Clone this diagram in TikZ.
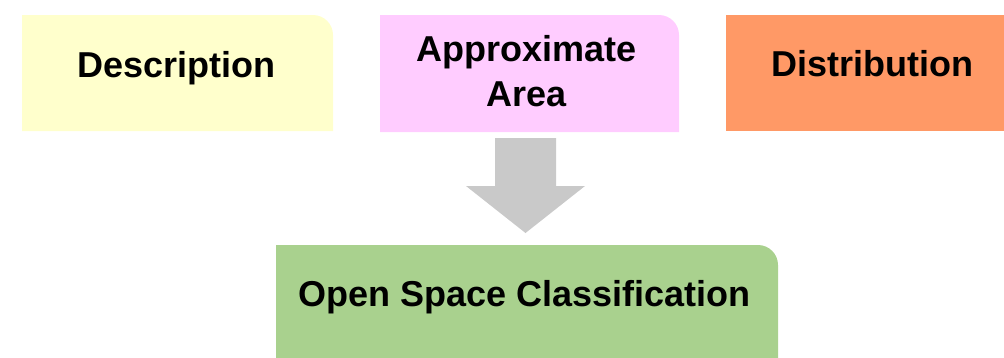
\documentclass[tikz,border=0pt]{standalone}
\usepackage{fontspec}
\setmainfont{Liberation Sans}
\begin{document}
\begin{tikzpicture}[x=1pt,y=-1pt,
  lbl/.style={font=\fontsize{36}{45.7}\selectfont\bfseries, align=center, text=black, inner sep=0pt, anchor=base}]
\definecolor{cyel}{HTML}{FFFFCC}
\definecolor{cpink}{HTML}{FFCCFF}
\definecolor{corange}{HTML}{FF9966}
\definecolor{cgreen}{HTML}{A9D18E}
\definecolor{cgrey}{HTML}{C9C9C9}
\useasboundingbox (0,0) rectangle (1004,357);
\begin{scope}
\clip (0,0) rectangle (1004,357);
% boxes with rounded top-right corner
\fill[cyel] (22,131) -- (22,15) -- (313,15) arc[start angle=-90,end angle=0,radius=20] -- (333,131) -- cycle;
\fill[cpink] (380,132) -- (380,15) -- (659,15) arc[start angle=-90,end angle=0,radius=20] -- (679,132) -- cycle;
\fill[corange] (726,131) -- (726,15) -- (1010,15) -- (1010,131) -- cycle;
\fill[cgreen] (276,370) -- (276,245) -- (758,245) arc[start angle=-90,end angle=0,radius=20] -- (778,370) -- cycle;
% block arrow
\fill[cgrey] (495,138) -- (556,138) -- (556,186) -- (585,186) -- (525.5,233) -- (466,186) -- (495,186) -- cycle;
\end{scope}
\node[lbl] (desc) at (176.5,77.7) {Description};
\node[lbl] (area) at (526.5,106.7) {Approximate\\Area};
\node[lbl] (dist) at (872.5,76.7) {Distribution};
\node[lbl] (osc) at (524.2,306.7) {Open Space Classification};
\end{tikzpicture}
\end{document}
